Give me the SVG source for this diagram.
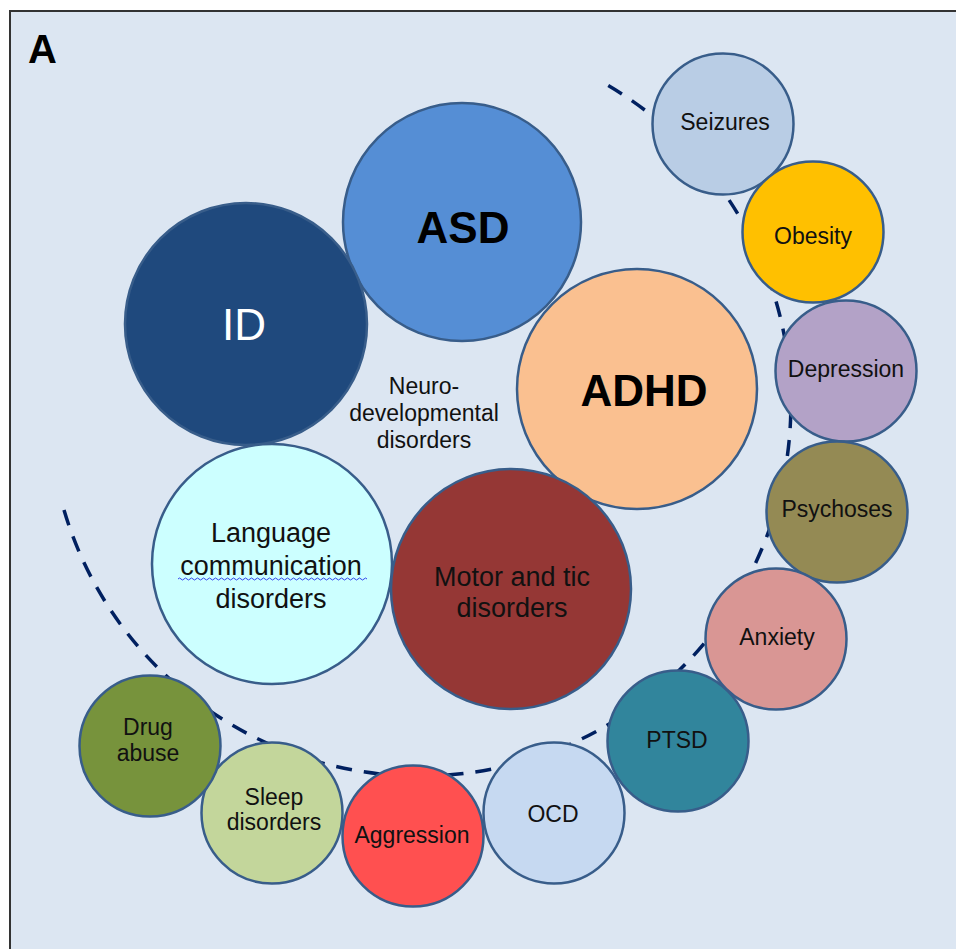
<svg xmlns="http://www.w3.org/2000/svg" width="956" height="949" viewBox="0 0 956 949">
<style>
.c{stroke:#385d8a;stroke-width:2.5}
.t{font-family:"Liberation Sans",Arial,sans-serif;fill:#111;text-anchor:middle}
.s{font-size:23px}
.m{font-size:27px}
.b{font-size:44px;font-weight:bold;fill:#000}
</style>
<rect x="10" y="11" width="960" height="960" fill="#dce6f2" stroke="#333" stroke-width="2"/>
<text x="28" y="63" font-family="Liberation Sans,Arial,sans-serif" font-size="40" font-weight="bold" fill="#000">A</text>
<g id="connectors">
<path d="M 64 510 A 371 371 0 1 0 604 83" fill="none" stroke="#002060" stroke-width="3.5" stroke-dasharray="16 12"/>
</g>
<g id="asd"><circle class="c" cx="462" cy="222" r="119" fill="#558ed5"/><text class="t b" x="463" y="243">ASD</text></g>
<g id="id"><circle class="c" cx="246" cy="324" r="121" fill="#1f497d"/><text class="t" x="244" y="340" font-size="44" fill="#fff" style="fill:#fff">ID</text></g>
<g id="adhd"><circle class="c" cx="637" cy="389" r="120" fill="#fac090"/><text class="t b" x="644" y="406">ADHD</text></g>
<g id="language"><circle class="c" cx="272" cy="564" r="120" fill="#ccffff"/>
<text class="t m" x="271" y="542">Language</text><text class="t m" x="271" y="575">communication</text><text class="t m" x="271" y="608">disorders</text>
<path d="M178 579 q1.5 -2 3 0 t3 0 t3 0 t3 0 t3 0 t3 0 t3 0 t3 0 t3 0 t3 0 t3 0 t3 0 t3 0 t3 0 t3 0 t3 0 t3 0 t3 0 t3 0 t3 0 t3 0 t3 0 t3 0 t3 0 t3 0 t3 0 t3 0 t3 0 t3 0 t3 0 t3 0 t3 0 t3 0 t3 0 t3 0 t3 0 t3 0 t3 0 t3 0 t3 0 t3 0 t3 0 t3 0 t3 0 t3 0 t3 0 t3 0 t3 0 t3 0 t3 0 t3 0 t3 0 t3 0 t3 0 t3 0 t3 0 t3 0 t3 0 t3 0 t3 0 t3 0 t3 0 t3 0" fill="none" stroke="#3344ee" stroke-width="1"/>
</g>
<g id="motor"><circle class="c" cx="511" cy="589" r="120" fill="#953735"/>
<text class="t m" x="512" y="586">Motor and tic</text><text class="t m" x="512" y="617">disorders</text></g>
<g id="neuro"><text class="t s" x="424" y="394">Neuro-</text><text class="t s" x="424" y="421">developmental</text><text class="t s" x="424" y="448">disorders</text></g>
<g id="seizures"><circle class="c" cx="723" cy="124" r="70.5" fill="#b9cde5"/><text class="t s" x="725" y="130">Seizures</text></g>
<g id="obesity"><circle class="c" cx="813" cy="232" r="70.5" fill="#ffc000"/><text class="t s" x="813" y="244">Obesity</text></g>
<g id="depression"><circle class="c" cx="846" cy="371" r="70.5" fill="#b3a2c7"/><text class="t s" x="846" y="377">Depression</text></g>
<g id="psychoses"><circle class="c" cx="837" cy="512" r="70.5" fill="#948a54"/><text class="t s" x="837" y="517">Psychoses</text></g>
<g id="anxiety"><circle class="c" cx="776" cy="639" r="70.5" fill="#d99694"/><text class="t s" x="777" y="645">Anxiety</text></g>
<g id="ptsd"><circle class="c" cx="678" cy="741" r="70.5" fill="#31859c"/><text class="t s" x="677" y="748">PTSD</text></g>
<g id="ocd"><circle class="c" cx="554" cy="813" r="70.5" fill="#c6d9f1"/><text class="t s" x="553" y="822">OCD</text></g>
<g id="aggression"><circle class="c" cx="413" cy="836" r="70.5" fill="#ff5050"/><text class="t s" x="412" y="843">Aggression</text></g>
<g id="sleep"><circle class="c" cx="272" cy="813" r="70.5" fill="#c3d69b"/><text class="t s" x="274" y="805">Sleep</text><text class="t s" x="274" y="830">disorders</text></g>
<g id="drug"><circle class="c" cx="150" cy="746" r="70.5" fill="#77933c"/><text class="t s" x="148" y="735">Drug</text><text class="t s" x="148" y="761">abuse</text></g>
</svg>
